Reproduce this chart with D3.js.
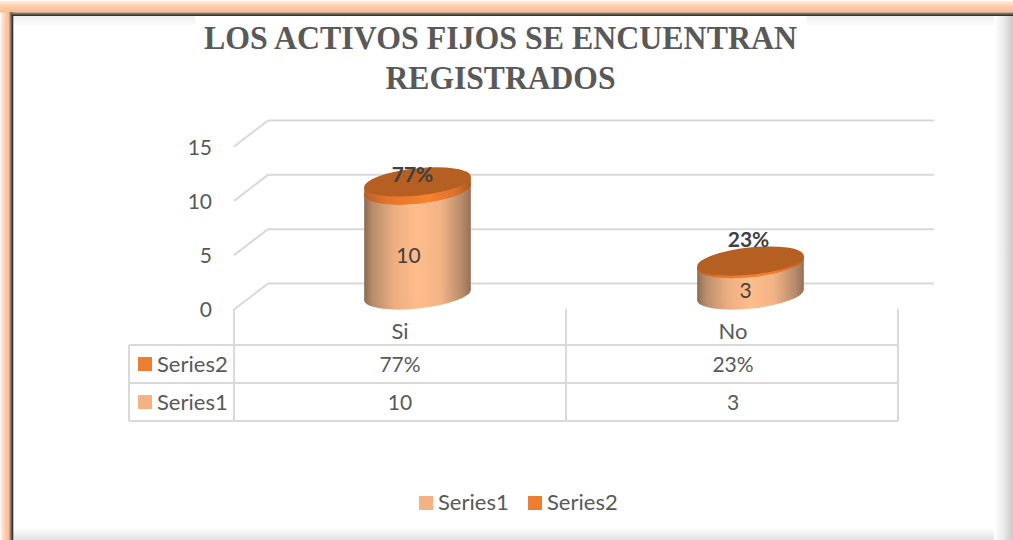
<!DOCTYPE html>
<html><head><meta charset="utf-8">
<script src="https://d3js.org/d3.v7.min.js"></script>
<style>html,body{margin:0;padding:0;background:#fff;overflow:hidden}svg{display:block}</style>
</head><body><div id="chart"></div>
<script>
const titleLines = ["LOS ACTIVOS FIJOS SE ENCUENTRAN", "REGISTRADOS"];
const categories = ["Si", "No"];
const series1 = [10, 3];
const series2 = [0.77, 0.23];
const seriesNames = ["Series1", "Series2"];
const yTicks = [0, 5, 10, 15];

const W = 1013, H = 540;
const svg = d3.select("#chart").append("svg").attr("width", W).attr("height", H);
const defs = svg.append("defs");
function grad(id, x2, y2, stops) {
  const g = defs.append("linearGradient").attr("id", id).attr("x1", 0).attr("y1", 0).attr("x2", x2).attr("y2", y2);
  stops.forEach(s => g.append("stop").attr("offset", s[0]).attr("stop-color", s[1]));
}
const glow = [[0, "#fff"], [0.2, "#ffe3cf"], [0.6, "#fdc9a3"], [1, "#f9bd92"]];
grad("glowL", 1, 0, glow); grad("glowT", 0, 1, glow);
grad("shadeT", 0, 1, [[0, "#eeeeee"], [1, "#ffffff"]]);
grad("shadeB", 0, 1, [[0, "#ffffff"], [1, "#e2e2e2"]]);
grad("shadeR", 1, 0, [[0, "#ffffff"], [0.5, "#ebebeb"], [1, "#c8c8c8"]]);
grad("body1", 1, 0, [[0, "#8d6a50"], [0.08, "#b98d6c"], [0.28, "#ecae82"], [0.5, "#ffbd8b"], [0.72, "#f2b386"], [0.92, "#b58a6b"], [1, "#94705a"]]);
grad("body2", 1, 0, [[0, "#b5602a"], [0.2, "#e2752c"], [0.6, "#f8822f"], [0.85, "#d9722c"], [1, "#a85a28"]]);

// frame
svg.append("rect").attr("width", W).attr("height", H).attr("fill", "#fff");
svg.append("rect").attr("x", 13).attr("y", 15.5).attr("width", W - 13).attr("height", 11).attr("fill", "url(#shadeT)");
svg.append("rect").attr("x", 195).attr("y", 15.5).attr("width", 612).attr("height", 11).attr("fill", "#fff");
svg.append("rect").attr("x", 13).attr("y", 528).attr("width", W - 13).attr("height", 12).attr("fill", "url(#shadeB)");
svg.append("rect").attr("x", 994).attr("y", 15.5).attr("width", 19).attr("height", H - 15).attr("fill", "url(#shadeR)");
svg.append("rect").attr("x", 0).attr("y", 0).attr("width", 10).attr("height", H).attr("fill", "url(#glowL)");
svg.append("rect").attr("x", 0).attr("y", 0).attr("width", W).attr("height", 12.5).attr("fill", "url(#glowT)");
svg.append("rect").attr("x", 9.5).attr("y", 12).attr("width", 4).attr("height", H).attr("fill", "#8e8279");
svg.append("rect").attr("x", 10).attr("y", 12.5).attr("width", W).attr("height", 3).attr("fill", "#8a7060");
svg.append("rect").attr("x", 11.5).attr("y", 14.5).attr("width", W).attr("height", 1.5).attr("fill", "#333");
svg.append("rect").attr("x", 11.5).attr("y", 14.5).attr("width", 1.5).attr("height", H).attr("fill", "#333");

// title
const textCol = "#595959", lineCol = "#d9d9d9", sans = "Lato, 'Open Sans', sans-serif";
svg.append("g").selectAll("text").data(titleLines).join("text")
  .attr("x", 500.5).attr("y", (d, i) => 49 + i * 40)
  .attr("text-anchor", "middle").attr("fill", textCol)
  .attr("font-family", "'Liberation Serif', serif").attr("font-weight", 700).attr("font-size", 34)
  .attr("textLength", (d, i) => i ? 230 : 593).attr("lengthAdjust", "spacingAndGlyphs")
  .text(d => d);

// scales: yGrid for the back wall, yCyl for the plane through the cylinder axes
const yGrid = d3.scaleLinear().domain([0, 15]).range([283.5, 120.5]);
const yCyl = d3.scaleLinear().domain([0, 15]).range([295, 137.5]);
const frontOff = 26, wallL = 234, wallB = 268, wallR = 934;
const x = d3.scalePoint().domain(categories).range([417.5, 750.5]);
const columnEdges = [234, 566, 898];

// grid
const grid = svg.append("g").attr("fill", "none").attr("stroke", lineCol).attr("stroke-width", 2);
yTicks.forEach(t => {
  grid.append("path").attr("d", d3.line()([[wallL, yGrid(t) + frontOff], [wallB, yGrid(t)], [wallR, yGrid(t)]]));
});

// y axis labels
const axisScale = yGrid.copy().range([yGrid(0) + frontOff, yGrid(15) + frontOff + 1]);
const axis = svg.append("g").attr("transform", "translate(212,0)")
  .call(d3.axisLeft(axisScale).tickValues(yTicks).tickSize(0).tickPadding(0));
axis.select(".domain").remove();
axis.selectAll("text").attr("font-family", sans).attr("font-size", 21).attr("fill", textCol);

// cylinders
const rx = 53.6, ry = 13.6, tilt = -6;
const th = tilt * Math.PI / 180;
const ex = Math.sqrt(rx * rx * Math.cos(th) ** 2 + ry * ry * Math.sin(th) ** 2);
const ey = (rx * rx - ry * ry) * Math.sin(th) * Math.cos(th) / ex;
function cyl(g, cx, y0, y1, fill, topFill) {
  g.append("ellipse").attr("rx", rx).attr("ry", ry)
    .attr("transform", `translate(${cx},${y0}) rotate(${tilt})`).attr("fill", fill);
  g.append("path").attr("fill", fill)
    .attr("d", `M${cx - ex},${y0 - ey}L${cx + ex},${y0 + ey}L${cx + ex},${y1 + ey}L${cx - ex},${y1 - ey}Z`);
  g.append("ellipse").attr("rx", rx).attr("ry", ry)
    .attr("transform", `translate(${cx},${y1}) rotate(${tilt})`).attr("fill", topFill);
}
const cols = svg.append("g");
categories.forEach((c, i) => {
  const g = cols.append("g");
  const top1 = series1[i], top2 = series1[i] + series2[i];
  cyl(g, x(c), yCyl(0), yCyl(top1), "url(#body1)", "#f08030");
  cyl(g, x(c), yCyl(top1), yCyl(top2), "url(#body2)", "#b55f23");
});

// data labels
const labels = svg.append("g").attr("font-family", sans).attr("text-anchor", "middle");
const valueLabelDx = [-9, -5], valueLabelY = [263, 298];
const pctLabelDx = [-5, -2], pctLabelY = [182, 247];
categories.forEach((c, i) => {
  labels.append("text").attr("x", x(c) + valueLabelDx[i]).attr("y", valueLabelY[i])
    .attr("font-size", 21).attr("fill", "#404040").text(series1[i]);
  labels.append("text").attr("x", x(c) + pctLabelDx[i]).attr("y", pctLabelY[i])
    .attr("font-size", 21).attr("font-weight", 700).attr("fill", "#404040").text(d3.format(".0%")(series2[i]));
});

// data table
const rowLines = [345, 383, 421], tableL = 129;
const tbl = svg.append("g").attr("fill", "none").attr("stroke", lineCol).attr("stroke-width", 2);
rowLines.forEach(r => tbl.append("path").attr("d", d3.line()([[tableL, r], [898, r]])));
tbl.append("path").attr("d", d3.line()([[tableL, 345], [tableL, 421]]));
columnEdges.forEach(e => tbl.append("path").attr("d", d3.line()([[e, 309], [e, 421]])));

const tText = svg.append("g").attr("font-family", sans).attr("font-size", 21).attr("fill", textCol);
const tx = d3.scalePoint().domain(categories).range([400, 733]);
categories.forEach((c, i) => {
  tText.append("text").attr("x", tx(c)).attr("y", 339).attr("font-size", 22).attr("text-anchor", "middle").text(c);
  tText.append("text").attr("x", tx(c)).attr("y", 372).attr("text-anchor", "middle").text(d3.format(".0%")(series2[i]));
  tText.append("text").attr("x", tx(c)).attr("y", 410).attr("text-anchor", "middle").text(series1[i]);
});
const swatch = { Series1: "#f4b183", Series2: "#ed7d31" };
[["Series2", 364], ["Series1", 402]].forEach(([n, cy]) => {
  svg.append("rect").attr("x", 138).attr("y", cy - 7).attr("width", 14).attr("height", 14).attr("fill", swatch[n]);
  tText.append("text").attr("x", 157).attr("y", cy + 8).attr("font-size", 22).text(n);
});

// legend
const lx = [419, 528];
seriesNames.forEach((n, i) => {
  svg.append("rect").attr("x", lx[i]).attr("y", 496).attr("width", 14).attr("height", 14).attr("fill", swatch[n]);
  tText.append("text").attr("x", lx[i] + 19).attr("y", 510).attr("font-size", 22).text(n);
});
</script></body></html>
